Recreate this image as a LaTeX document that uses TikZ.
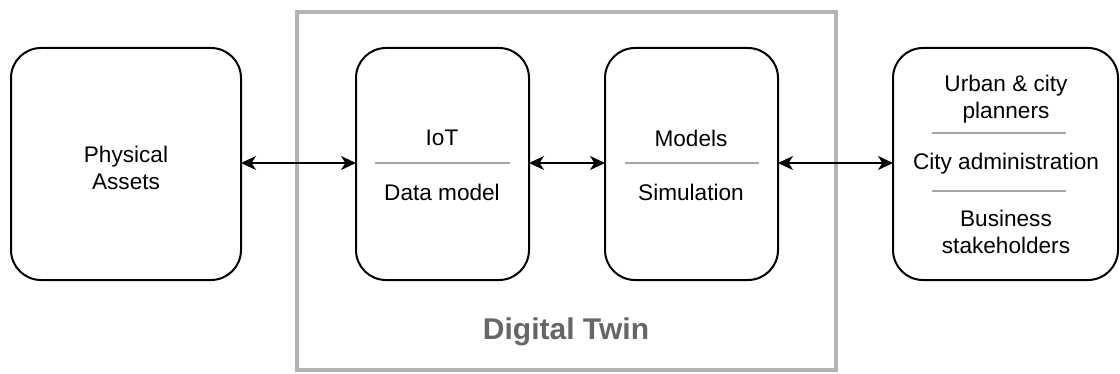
\documentclass[tikz,border=0pt]{standalone}
\usepackage{fontspec}
\setmainfont{Liberation Sans}
\usetikzlibrary{arrows.meta}
\definecolor{framegray}{HTML}{B3B3B3}
\definecolor{titlegray}{HTML}{666666}
\definecolor{sepgray}{HTML}{A6A6A6}
\begin{document}
\begin{tikzpicture}[x=0.5pt,y=-0.5pt,
  box/.style={draw=black,line width=1pt,rounded corners=15pt,fill=white},
  lbl/.style={font=\fontsize{11.3}{13.5}\selectfont,align=center,inner sep=0pt,anchor=center},
  sep/.style={draw=sepgray,line width=0.8pt},
  conn/.style={line width=0.8pt,{Stealth[length=7.5pt,width=7pt,inset=2.2pt]}-{Stealth[length=7.5pt,width=7pt,inset=2.2pt]}}]
\useasboundingbox (0,0) rectangle (1120,374);
% Digital Twin frame
\draw[framegray,line width=2pt] (297,12) rectangle (836,370);
\node[font=\bfseries\fontsize{15}{18}\selectfont,text=titlegray,inner sep=0pt] (dt) at (566,332) {Digital Twin};
% boxes
\draw[box] (11,48) rectangle (241,280);
\node[lbl] (phys) at (126,168) {Physical\\Assets};
\draw[box] (356,48) rectangle (529,280);
\draw[box] (605,48) rectangle (778,280);
\draw[box] (893,48) rectangle (1118,280);
% anchors for connectors
\coordinate (paR) at (241,163);
\coordinate (iotL) at (356,163);
\coordinate (iotR) at (529,163);
\coordinate (modL) at (605,163);
\coordinate (modR) at (778,163);
\coordinate (stkL) at (893,163);
% compartments
\node[lbl] (iot) at (442,138) {IoT};
\draw[sep] (375,163) -- (510,163);
\node[lbl] (dm) at (442,192) {Data model};
\node[lbl] (models) at (691,138) {Models};
\draw[sep] (625,163) -- (759,163);
\node[lbl] (sim) at (691,192) {Simulation};
\node[lbl] (urban) at (1006,99) {Urban \& city\\planners};
\draw[sep] (932,133) -- (1066,133);
\node[lbl] (admin) at (1006,164) {City administration};
\draw[sep] (932,191) -- (1066,191);
\node[lbl] (bus) at (1006,232) {Business\\stakeholders};
% connectors
\draw[conn] (paR) -- (iotL);
\draw[conn] (iotR) -- (modL);
\draw[conn] (modR) -- (stkL);
\end{tikzpicture}
\end{document}
